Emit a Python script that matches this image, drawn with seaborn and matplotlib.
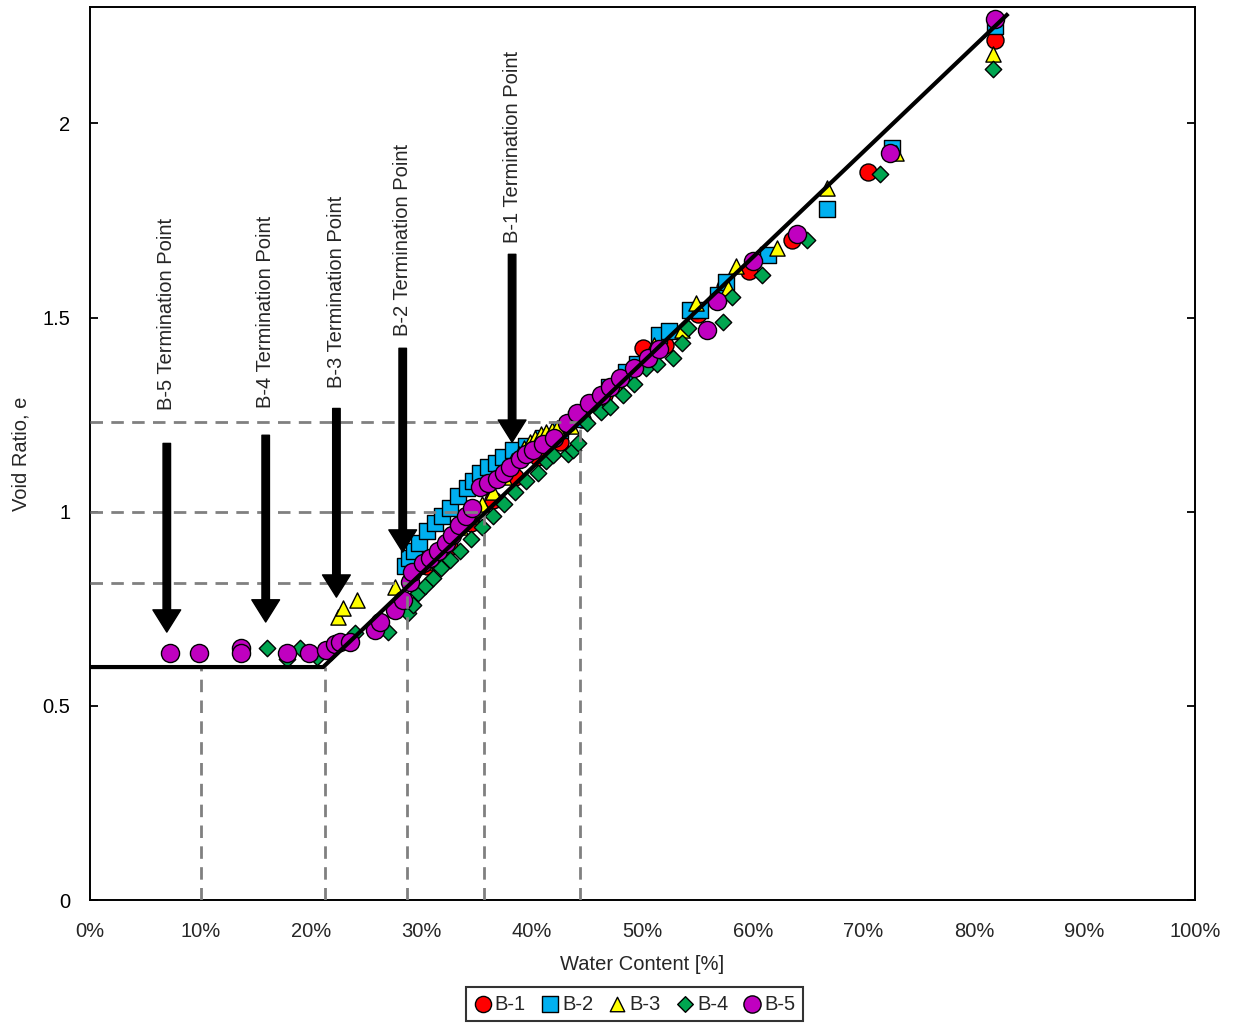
import matplotlib
matplotlib.use("Agg")
import matplotlib.pyplot as plt
import seaborn as sns
import pandas as pd

# ---------------- data ----------------
b1_w = [30.5, 32.5, 34.5, 36.5, 38.5, 40.5, 42.5, 44.5, 46.5, 48.5, 50.0, 52.0, 55.0, 57.5, 59.6, 63.5, 70.4, 81.9]
b1_e = [0.86, 0.91, 0.97, 1.03, 1.09, 1.14, 1.18, 1.24, 1.30, 1.35, 1.423, 1.43, 1.51, 1.58, 1.62, 1.70, 1.874, 2.214]

b2_w = [28.5, 28.9, 29.3, 29.8, 30.5, 31.2, 31.9, 32.6, 33.3, 34.1, 34.7, 35.3, 36.0, 36.7, 37.4, 38.3, 39.5, 41.0,
        42.5, 44.0, 45.5, 47.0, 48.5, 49.5, 51.5, 52.4, 54.3, 55.2, 56.8, 57.6, 61.4, 66.7, 72.6, 81.9]
b2_e = [0.86, 0.88, 0.90, 0.92, 0.95, 0.97, 0.99, 1.01, 1.04, 1.06, 1.08, 1.10, 1.115, 1.125, 1.14, 1.16, 1.17, 1.19,
        1.21, 1.24, 1.28, 1.32, 1.36, 1.38, 1.455, 1.465, 1.52, 1.52, 1.557, 1.593, 1.66, 1.78, 1.938, 2.252]

b3_w = [22.4, 22.9, 24.2, 27.6, 28.9, 29.6, 30.3, 31.0, 31.8, 32.6, 33.5, 34.5, 35.5, 36.5, 37.5, 38.2, 38.8, 39.3,
        39.8, 40.3, 40.8, 41.3, 41.8, 42.3, 43.5, 45.5, 47.5, 49.0, 51.0, 53.6, 54.8, 57.7, 58.5, 62.2, 66.7, 72.9, 81.7]
b3_e = [0.728, 0.752, 0.772, 0.806, 0.84, 0.86, 0.87, 0.89, 0.915, 0.94, 0.96, 0.99, 1.02, 1.05, 1.09, 1.13, 1.15, 1.165,
        1.18, 1.19, 1.20, 1.205, 1.21, 1.215, 1.22, 1.28, 1.33, 1.37, 1.43, 1.467, 1.537, 1.575, 1.634, 1.68, 1.833, 1.925, 2.18]

b4_w = [16.0, 17.8, 19.0, 20.5, 21.8, 24.0, 27.0, 28.8, 29.2, 29.7, 30.3, 31.0, 31.8, 32.6, 33.5, 34.5, 35.5, 36.5,
        37.5, 38.5, 39.5, 40.5, 41.3, 41.9, 43.3, 43.7, 44.2, 45.0, 46.2, 47.1, 48.2, 49.2, 50.3, 51.3, 52.8, 53.6,
        54.1, 57.3, 58.1, 60.8, 64.9, 71.5, 81.7]
b4_e = [0.649, 0.62, 0.649, 0.625, 0.64, 0.687, 0.69, 0.74, 0.76, 0.79, 0.81, 0.83, 0.855, 0.875, 0.90, 0.93, 0.96, 0.99,
        1.02, 1.05, 1.08, 1.10, 1.13, 1.145, 1.15, 1.158, 1.176, 1.228, 1.256, 1.27, 1.30, 1.33, 1.37, 1.38, 1.395, 1.434,
        1.472, 1.488, 1.553, 1.609, 1.70, 1.871, 2.14]

b5_w = [7.2, 9.9, 13.7, 13.7, 17.8, 19.8, 21.4, 22.2, 22.6, 23.5, 25.8, 26.2, 27.6, 28.3, 29.0, 29.1, 30.1, 30.8, 31.5,
        32.2, 32.8, 33.4, 34.0, 34.6, 35.3, 36.0, 36.8, 37.5, 38.0, 38.9, 39.5, 40.1, 41.0, 42.0, 43.2, 44.1, 45.2,
        46.2, 47.1, 48.0, 49.2, 50.5, 51.5, 55.8, 56.7, 60.0, 64.0, 72.4, 81.9]
b5_e = [0.635, 0.635, 0.65, 0.635, 0.636, 0.636, 0.643, 0.66, 0.665, 0.664, 0.695, 0.716, 0.746, 0.772, 0.818, 0.844,
        0.867, 0.88, 0.90, 0.92, 0.94, 0.965, 0.99, 1.01, 1.065, 1.075, 1.085, 1.10, 1.115, 1.135, 1.15, 1.16, 1.175,
        1.19, 1.228, 1.255, 1.28, 1.30, 1.32, 1.345, 1.37, 1.395, 1.42, 1.467, 1.544, 1.647, 1.716, 1.923, 2.27]

fit_w = [0.0, 21.1, 83.1]
fit_e = [0.6, 0.6, 2.283]

# dashed guide lines: (water content, void ratio)
guide_w = [10.0, 21.3, 28.7, 35.7, 44.3]
guide_e = [0.6, 0.6, 0.816, 1.0, 1.23]
guide_horizontal = [False, False, True, True, True]

term_labels = ["B-5 Termination Point", "B-4 Termination Point", "B-3 Termination Point",
               "B-2 Termination Point", "B-1 Termination Point"]
term_w = [6.95, 15.9, 22.3, 28.3, 38.2]
arrow_start = [1.176, 1.197, 1.266, 1.421, 1.663]
arrow_end = [0.69, 0.716, 0.78, 0.896, 1.179]
label_base = [1.262, 1.266, 1.318, 1.452, 1.691]

x_ticks = [0, 10, 20, 30, 40, 50, 60, 70, 80, 90, 100]
x_ticklabels = ["0%", "10%", "20%", "30%", "40%", "50%", "60%", "70%", "80%", "90%", "100%"]
y_ticks = [0, 0.5, 1.0, 1.5, 2.0]
y_ticklabels = ["0", "0.5", "1", "1.5", "2"]

series_names = ["B-1", "B-2", "B-3", "B-4", "B-5"]
series_w = [b1_w, b2_w, b3_w, b4_w, b5_w]
series_e = [b1_e, b2_e, b3_e, b4_e, b5_e]
series_colors = ["#FF0000", "#00B0F0", "#FFFF00", "#00A550", "#C000C0"]
series_markers = ["o", "s", "^", "D", "o"]
series_sizes = [150, 140, 120, 70, 170]

# ---------------- style ----------------
sns.set_style("white")
plt.rcParams["font.family"] = ["Liberation Sans", "DejaVu Sans"]
plt.rcParams["font.size"] = 14.5

fig = plt.figure(figsize=(12.33, 10.24), dpi=100)
ax = fig.add_axes([90 / 1233, 1 - 900 / 1024, (1195 - 90) / 1233, (900 - 7) / 1024])

for name, ws, es, c, m, s in zip(series_names, series_w, series_e, series_colors, series_markers, series_sizes):
    df = pd.DataFrame({"w": ws, "e": es})
    sns.scatterplot(data=df, x="w", y="e", ax=ax, color=c, marker=m, s=s,
                    edgecolor="black", linewidth=1.0, label=name, zorder=3, legend=False)

# fit line
ax.plot(fit_w, fit_e, color="black", lw=3, zorder=5, solid_capstyle="butt")

# guide lines
for gw, ge, hz in zip(guide_w, guide_e, guide_horizontal):
    ax.plot([gw, gw], [0, ge], color="#808080", lw=2, ls=(0, (4.5, 3)), zorder=4)
    if hz:
        ax.plot([0, gw], [ge, ge], color="#808080", lw=2, ls=(0, (4.5, 3)), zorder=4)

# termination arrows and labels
for lab, tw, a0, a1, lb in zip(term_labels, term_w, arrow_start, arrow_end, label_base):
    ax.annotate("", xy=(tw, a1), xytext=(tw, a0),
                arrowprops=dict(arrowstyle="simple,head_width=1.0,head_length=0.8,tail_width=0.27",
                                mutation_scale=20, color="black", shrinkA=0, shrinkB=0),
                zorder=6)
    ax.text(tw, lb, lab, rotation=90, ha="center", va="bottom", fontsize=14.5, zorder=6)

ax.set_xlim(0, 100)
ax.set_ylim(0, 2.3)
ax.set_xticks(x_ticks)
ax.set_xticklabels(x_ticklabels)
ax.set_yticks(y_ticks)
ax.set_yticklabels(y_ticklabels)
ax.tick_params(axis="x", length=0, pad=16, labelsize=14.5)
ax.tick_params(axis="y", direction="in", length=6, width=1.3, pad=14, labelsize=14.5,
               left=True, right=True, colors="black")
ax.set_xlabel("Water Content [%]", fontsize=14.5, labelpad=10)
ax.set_ylabel("Void Ratio, e", fontsize=14.5, labelpad=9)
for sp in ax.spines.values():
    sp.set_color("black")
    sp.set_linewidth(1.4)

handles, labels = ax.get_legend_handles_labels()
leg = fig.legend(handles, labels, loc="center", bbox_to_anchor=(0.5146, 0.0195), ncol=5,
                 frameon=True, fancybox=False, edgecolor="black", fontsize=14.5,
                 handlelength=0.9, handletextpad=0.15, columnspacing=0.75, borderpad=0.35,
                 markerscale=0.95)
leg.get_frame().set_linewidth(1.5)

fig.savefig("out.png", dpi=100)
